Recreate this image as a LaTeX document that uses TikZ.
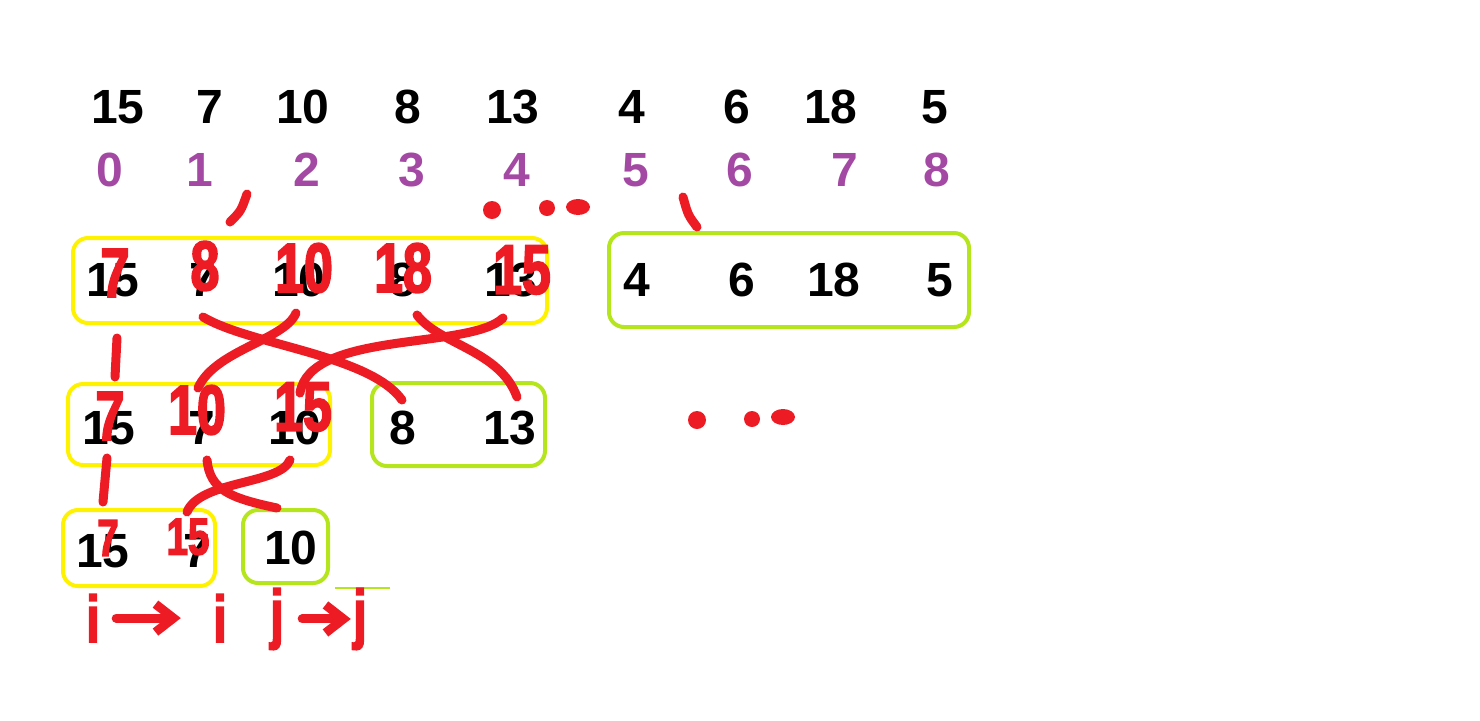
\documentclass[tikz,border=0pt]{standalone}
\usepackage{fontspec}
\setmainfont{Liberation Sans}
\newfontfamily\handfont[FakeStretch=0.74, FakeBold=2.5]{Liberation Sans}
\usetikzlibrary{arrows.meta}

\definecolor{paintred}{HTML}{ED1C24}
\definecolor{paintyellow}{HTML}{FFF200}
\definecolor{paintlime}{HTML}{B5E61D}
\definecolor{paintpurple}{HTML}{A349A4}

\tikzset{
    num/.style={inner sep=0pt, font=\bfseries\fontsize{24}{24}\selectfont},
    idx/.style={num, text=paintpurple},
    fix/.style={inner sep=0pt, text=paintred, font=\handfont\bfseries\fontsize{35}{35}\selectfont},
    fixsmall/.style={fix, font=\handfont\bfseries\fontsize{26}{26}\selectfont},
    ybox/.style={draw=paintyellow, line width=2pt, rounded corners=7.5pt},
    gbox/.style={draw=paintlime, line width=2pt, rounded corners=7.5pt},
    pen/.style={draw=paintred, line width=4.5pt, line cap=round},
    letter/.style={inner sep=0pt, anchor=base, text=paintred, font=\handfont\bfseries\fontsize{33}{33}\selectfont},
}

\begin{document}
\begin{tikzpicture}[x=0.5pt, y=-0.5pt]
            \useasboundingbox (0,0) rectangle (1480,720);

            \node[num] (t0) at (118,107) {15};
            \node[num] (t1) at (210,107) {7};
            \node[num] (t2) at (303,107) {10};
            \node[num] (t3) at (408,107) {8};
            \node[num] (t4) at (513,107) {13};
            \node[num] (t5) at (632,107) {4};
            \node[num] (t6) at (737,107) {6};
            \node[num] (t7) at (831,107) {18};
            \node[num] (t8) at (935,107) {5};

            \node[idx] (k0) at (110,170) {0};
            \node[idx] (k1) at (200,170) {1};
            \node[idx] (k2) at (307,170) {2};
            \node[idx] (k3) at (412,170) {3};
            \node[idx] (k4) at (517,170) {4};
            \node[idx] (k5) at (636,170) {5};
            \node[idx] (k6) at (740,170) {6};
            \node[idx] (k7) at (845,170) {7};
            \node[idx] (k8) at (937,170) {8};

            \draw[ybox] (73,238) rectangle (547,323);
            \draw[gbox] (609,233) rectangle (969,327);
            \draw[ybox] (68,384) rectangle (330,465);
            \draw[gbox] (372,383) rectangle (545,466);
            \draw[ybox] (63,510) rectangle (215,586);
            \draw[gbox] (243,510) rectangle (328,583);
            \draw[paintlime, line width=1pt] (335,588) -- (390,588);

            \node[num] (a0) at (113,280) {15};
            \node[num] (a1) at (203,280) {7};
            \node[num] (a2) at (299,280) {10};
            \node[num] (a3) at (403,280) {8};
            \node[num] (a4) at (511,280) {13};
            \node[num] (b0) at (637,280) {4};
            \node[num] (b1) at (742,280) {6};
            \node[num] (b2) at (834,280) {18};
            \node[num] (b3) at (940,280) {5};

            \node[num] (c0) at (109,428) {15};
            \node[num] (c1) at (202,428) {7};
            \node[num] (c2) at (295,428) {10};
            \node[num] (d0) at (403,428) {8};
            \node[num] (d1) at (510,428) {13};

            \node[num] (e0) at (103,551) {15};
            \node[num] (e1) at (197,551) {7};
            \node[num] (f0) at (291,548) {10};

            \draw[pen] (247,194) .. controls (241,211) .. (230,222);
            \draw[pen] (683,197) .. controls (688,215) .. (697,227);
            \fill[paintred] (492,210) circle (9);
            \fill[paintred] (547,208) circle (8);
            \fill[paintred] (578,207) ellipse (12 and 8);
            \fill[paintred] (697,420) circle (9);
            \fill[paintred] (752,419) circle (8);
            \fill[paintred] (783,417) ellipse (12 and 8);

            \draw[pen] (117,338) -- (115,377);
            \draw[pen] (107,458) -- (103,502);
            \draw[pen] (203,317) .. controls (250,345) and (370,355) .. (402,400);
            \draw[pen] (296,313) .. controls (285,340) and (215,350) .. (198,388);
            \draw[pen] (417,315) .. controls (440,345) and (500,350) .. (517,397);
            \draw[pen] (503,318) .. controls (470,350) and (310,330) .. (300,393);
            \draw[pen] (207,460) .. controls (210,490) and (230,498) .. (277,508);
            \draw[pen] (290,460) .. controls (280,485) and (200,480) .. (187,512);

            \node[fix] (r0) at (115,273) {7};
            \node[fix] (r1) at (205,266) {8};
            \node[fix] (r2) at (304,268) {10};
            \node[fix] (r3) at (403,268) {18};
            \node[fix] (r4) at (522,270) {15};
            \node[fix] (s0) at (110,416) {7};
            \node[fix] (s1) at (197,410) {10};
            \node[fix] (s2) at (303,407) {15};
            \node[fixsmall] (u0) at (108,538) {7};
            \node[fixsmall] (u1) at (188,537) {15};

            \node[letter] (i1) at (93,642) {i};
            \node[letter] (i2) at (220,642) {i};
            \node[letter] (j1) at (277,636) {j};
            \node[letter] (j2) at (360,636) {j};
            \draw[pen, -{Straight Barb[length=9pt, width=14pt]}, shorten <=8pt, shorten >=16pt] (i1) -- (i2);
            \draw[pen, -{Straight Barb[length=9pt, width=14pt]}, shorten <=9pt, shorten >=1pt] (j1) -- (j2);
        \end{tikzpicture}
\end{document}
